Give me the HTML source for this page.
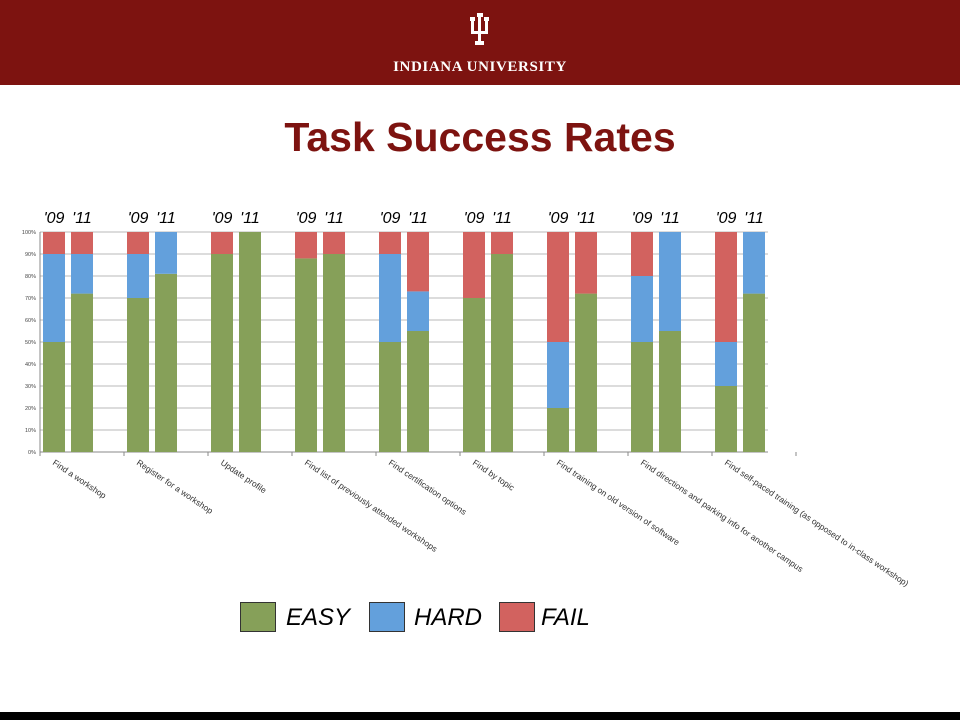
<!DOCTYPE html>
<html><head><meta charset="utf-8">
<style>
html,body{margin:0;padding:0;background:#fff;}
body{width:960px;height:720px;position:relative;overflow:hidden;font-family:"Liberation Sans",sans-serif;}
#header{position:absolute;left:0;top:0;width:960px;height:85px;background:#7d1310;}
#footer{position:absolute;left:0;top:712px;width:960px;height:8px;background:#000;}
#title{position:absolute;left:0;width:960px;top:114px;text-align:center;font-size:41px;font-weight:bold;color:#7d1310;}
svg{position:absolute;left:0;top:0;}
</style></head>
<body>
<div id="header">
  <svg width="960" height="85">
    <g fill="#fff">
      <rect x="470" y="17" width="5" height="4"/><rect x="484" y="17" width="5" height="4"/><rect x="477" y="13" width="6" height="4"/>
      <rect x="471" y="19" width="3" height="13"/><rect x="485" y="19" width="3" height="13"/><rect x="478" y="15" width="3" height="26"/>
      <rect x="471" y="31" width="17" height="3"/><rect x="475" y="41" width="9" height="4"/>
    </g>
    <text x="480" y="71" text-anchor="middle" font-family="Liberation Serif,serif" font-weight="bold" font-size="15" fill="#fff" letter-spacing="0.6">INDIANA UNIVERSITY</text>
  </svg>
</div>
<div id="title">Task Success Rates</div>
<svg id="chart" width="960" height="720"></svg>
<div id="footer"></div>
<script>
const categories=["Find a workshop","Register for a workshop","Update profile","Find list of previously attended workshops","Find certification options","Find by topic","Find training on old version of software","Find directions and parking info for another campus","Find self-paced training (as opposed to in-class workshop)"];
const years=["'09","'11"];
const easy09=[50,70,90,88,50,70,20,50,30];
const hard09=[40,20,0,0,40,0,30,30,20];
const fail09=[10,10,10,12,10,30,50,20,50];
const easy11=[72,81,100,90,55,90,72,55,72];
const hard11=[18,19,0,0,18,0,0,45,28];
const fail11=[10,0,0,10,27,10,28,0,0];
const yTicks=[0,10,20,30,40,50,60,70,80,90,100];

const NS="http://www.w3.org/2000/svg";
const svg=document.getElementById('chart');
const X0=40,SLOT=28,BW=22,Y0=452,YH=220,XEND=768;
const y=v=>Y0-v/100*YH;
const xBar=(i,k)=>X0+3+(i*3+k)*SLOT;
function mk(tag,attrs,parent){const e=document.createElementNS(NS,tag);for(const a in attrs)e.setAttribute(a,attrs[a]);(parent||svg).appendChild(e);return e;}
const colors={easy:"#86a059",hard:"#63a0dc",fail:"#d2625f"};
yTicks.forEach(t=>{
  const g=mk('line',{x1:X0,x2:XEND,y1:y(t),y2:y(t),stroke:t===0?"#888":"#b8b8b8","stroke-width":1});
  
  
  const lab=mk('text',{x:X0-4,y:y(t)+2,"text-anchor":"end","font-size":5.5,fill:"#444"});
  lab.textContent=t+"%";
  
  
});
mk('line',{x1:X0,x2:X0,y1:y(100),y2:Y0,stroke:"#888"});
for(let i=0;i<=categories.length*3;i+=3){mk('line',{x1:X0+i*SLOT,x2:X0+i*SLOT,y1:Y0,y2:Y0+4,stroke:"#888"});}
const series=[[easy09,hard09,fail09],[easy11,hard11,fail11]];
const keys=["easy","hard","fail"];
categories.forEach((c,i)=>{
  series.forEach((s,k)=>{
    let base=0;
    s.forEach((arr,j)=>{
      const v=arr[i];
      if(v>0){
        const r=mk('rect',{x:xBar(i,k),y:y(base+v),width:BW,height:y(base)-y(base+v),fill:colors[keys[j]]});
        
        
      }
      base+=v;
    });
    const yl=mk('text',{x:xBar(i,k)+BW/2,y:223,"text-anchor":"middle","font-size":16,"font-style":"italic",fill:"#000"});
    yl.textContent=years[k];
    
    
  });
  const lx=52+i*84,ly=464;
  const cl=mk('text',{x:lx,y:ly,"font-size":8.5,fill:"#333",transform:`rotate(34 ${lx} ${ly})`});
  cl.textContent=c;
  
  
});
const legend=[["EASY","easy",240,286],["HARD","hard",369,414],["FAIL","fail",499,541]];
legend.forEach(l=>{
  const r=mk('rect',{x:l[2]+0.5,y:602.5,width:35,height:29,fill:colors[l[1]],stroke:"#333","stroke-width":1});
  
  
  const t=mk('text',{x:l[3],y:625,"font-size":24,"font-style":"italic",fill:"#000"});
  t.textContent=l[0];
  
  
});
</script>
</body></html>
